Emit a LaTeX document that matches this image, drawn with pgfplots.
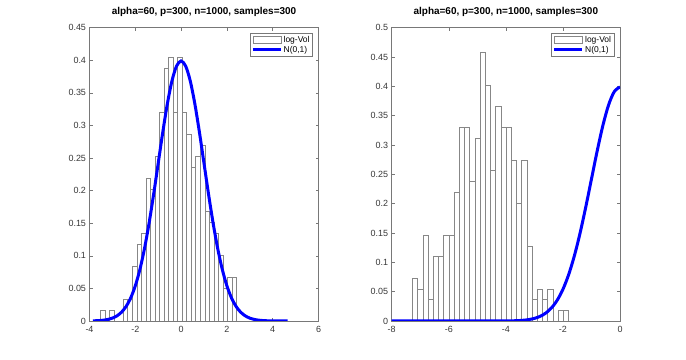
\documentclass[border=0pt]{standalone}
\usepackage{pgfplots}
\pgfplotsset{compat=1.18}
\usepackage{fontspec}
\setmainfont{Liberation Sans}

\definecolor{axgray}{RGB}{120,120,120}
\definecolor{txtgray}{RGB}{55,55,55}
\definecolor{bargray}{RGB}{135,135,135}

\pgfplotsset{
  mystyle/.style={
    scale only axis, height=293.3bp,
    axis line style={axgray, line width=0.5bp},
    every tick/.style={axgray, line width=0.5bp},
    tick align=inside, major tick length=3bp,
    tick pos=both,
    tick label style={font=\fontsize{9}{10}\selectfont, text=txtgray},
    xticklabel style={yshift=-1.5bp},
    /pgf/number format/assume math mode=true,
    yticklabel style={/pgf/number format/fixed, /pgf/number format/precision=2},
    title style={font=\bfseries\fontsize{10}{12}\selectfont, text=black, yshift=2bp},
    title={alpha=60, p=300, n=1000, samples=300},
    legend style={at={(1,1)}, anchor=north east, xshift=-6bp, yshift=-5.5bp,
      draw=axgray, line width=0.5bp, font=\fontsize{8.5}{9.5}\selectfont,
      inner sep=1.5bp, row sep=0pt, nodes={inner sep=1.2bp, text=black}},
    legend cell align=left,
    clip=true,
  },
  histleg/.style={legend image code/.code={\draw[bargray, fill=white, line width=0.5bp] (0bp,-3.5bp) rectangle (28bp,3.5bp);}},
  curveleg/.style={legend image code/.code={\draw[blue, line width=3bp] (0bp,0bp) -- (28bp,0bp);}},
}

\begin{document}
\begin{tikzpicture}
\path[use as bounding box] (0,0) rectangle (686bp,360bp);

\begin{axis}[mystyle, at={(89.5bp,39bp)}, anchor=south west, width=229bp,
  xmin=-4, xmax=6, ymin=0, ymax=0.45,
  xtick={-4,-2,0,2,4,6},
  ytick={0,0.05,0.1,0.15,0.2,0.25,0.3,0.35,0.4,0.45}]
\addplot[ybar interval, fill=white, draw=bargray, line width=0.5bp, histleg] coordinates {
(-3.520,0.0168) (-3.322,0) (-3.124,0.0168) (-2.926,0) (-2.728,0)
(-2.530,0.0337) (-2.332,0.0337) (-2.134,0.0842) (-1.936,0.1178) (-1.738,0.1347)
(-1.540,0.2189) (-1.342,0.2020) (-1.144,0.2525) (-0.946,0.3199) (-0.748,0.3872)
(-0.550,0.4040) (-0.352,0.3199) (-0.154,0.4040) (0.044,0.3199) (0.242,0.2862)
(0.440,0.2357) (0.638,0.2525) (0.836,0.2694) (1.034,0.1684) (1.232,0.1515)
(1.430,0.1347) (1.628,0.1010) (1.826,0.0505) (2.024,0.0673) (2.222,0.0673)
(2.420,0)};
\addlegendentry{log-Vol}
\addplot[blue, line width=3bp, smooth, curveleg] coordinates {
(-3.85,0.00024) (-3.6,0.00061) (-3.4,0.00123) (-3.2,0.00238) (-3.0,0.00443)
(-2.8,0.00792) (-2.6,0.01358) (-2.4,0.02239) (-2.2,0.03547) (-2.0,0.05399)
(-1.8,0.07895) (-1.6,0.11092) (-1.4,0.14973) (-1.2,0.19419) (-1.0,0.24197)
(-0.8,0.28969) (-0.6,0.33322) (-0.4,0.36827) (-0.2,0.39104) (0,0.39894)
(0.2,0.39104) (0.4,0.36827) (0.6,0.33322) (0.8,0.28969) (1.0,0.24197)
(1.2,0.19419) (1.4,0.14973) (1.6,0.11092) (1.8,0.07895) (2.0,0.05399)
(2.2,0.03547) (2.4,0.02239) (2.6,0.01358) (2.8,0.00792) (3.0,0.00443)
(3.2,0.00238) (3.4,0.00123) (3.6,0.00061) (3.8,0.00029) (4.0,0.00013)
(4.3,0.00004) (4.65,0.00001)};
\addlegendentry{N(0,1)}
\end{axis}

\begin{axis}[mystyle, at={(391.7bp,39bp)}, anchor=south west, width=228.3bp,
  xmin=-8, xmax=0, ymin=0, ymax=0.5,
  xtick={-8,-6,-4,-2,0},
  ytick={0,0.05,0.1,0.15,0.2,0.25,0.3,0.35,0.4,0.45,0.5}]
\addplot[ybar interval, fill=white, draw=bargray, line width=0.5bp, histleg] coordinates {
(-7.272,0.0732) (-7.090,0.0549) (-6.908,0.1464) (-6.726,0.0366) (-6.544,0.1098)
(-6.362,0.1098) (-6.179,0.1464) (-5.997,0.1464) (-5.815,0.2197) (-5.633,0.3295)
(-5.451,0.3295) (-5.269,0.2380) (-5.087,0.3112) (-4.905,0.4576) (-4.723,0.4027)
(-4.541,0.2563) (-4.358,0.3661) (-4.176,0.3295) (-3.994,0.3295) (-3.812,0.2746)
(-3.630,0.2014) (-3.448,0.2746) (-3.266,0.1281) (-3.084,0.0366) (-2.902,0.0549)
(-2.720,0.0366) (-2.537,0.0549) (-2.355,0) (-2.173,0.0183) (-1.991,0.0183)
(-1.809,0)};
\addlegendentry{log-Vol}
\addplot[blue, line width=3bp, smooth, curveleg] coordinates {
(-8,0) (-6.5,0) (-5,0.0000015) (-4.5,0.000016) (-4.2,0.00006) (-4.0,0.00013)
(-3.8,0.00029) (-3.6,0.00061) (-3.4,0.00123) (-3.2,0.00238) (-3.0,0.00443)
(-2.8,0.00792) (-2.6,0.01358) (-2.4,0.02239) (-2.2,0.03547) (-2.0,0.05399)
(-1.8,0.07895) (-1.6,0.11092) (-1.4,0.14973) (-1.2,0.19419) (-1.0,0.24197)
(-0.8,0.28969) (-0.6,0.33322) (-0.4,0.36827) (-0.2,0.39104) (0,0.39894)};
\addlegendentry{N(0,1)}
\end{axis}
\end{tikzpicture}
\end{document}
